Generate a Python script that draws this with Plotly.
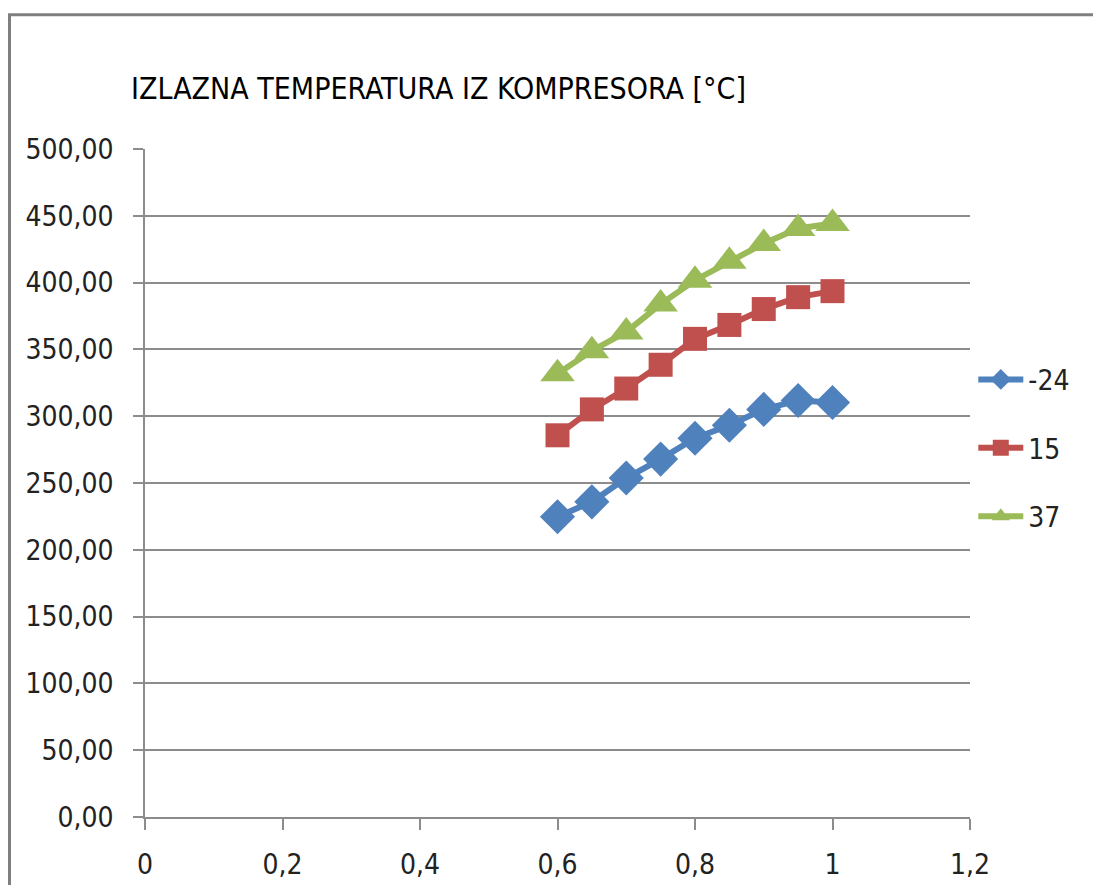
import plotly.graph_objects as go

# mass flow ratio on x, outlet temperature on y
x_vals = [0.6, 0.65, 0.7, 0.75, 0.8, 0.85, 0.9, 0.95, 1.0]
t_m24 = [224.7, 235.9, 253.7, 267.9, 283.5, 293.2, 305.1, 311.8, 310.3]
t_15 = [285.7, 305.1, 320.7, 338.5, 357.9, 368.3, 380.2, 389.1, 393.6]
t_37 = [331.8, 349.0, 363.1, 383.9, 401.8, 415.9, 429.3, 440.5, 444.2]
series_names = ["-24", "15", "37"]

FONT = "Liberation Sans Narrow, DejaVu Sans Condensed, Arial Narrow, sans-serif"
grid_col = "#8c8c8c"

fig = go.Figure()
styles = [
    (t_m24, "#4F81BD", "diamond", 27),
    (t_15, "#C0504D", "square", 24),
    (t_37, "#9BBB59", "triangle-up", 30),
]
for name, (vals, col, sym, sz) in zip(series_names, styles):
    fig.add_trace(go.Scatter(
        x=x_vals, y=vals, name=name, legendgroup=name,
        mode="lines+markers",
        line=dict(color=col, width=6),
        marker=dict(symbol=sym, size=sz, color=col),
    ))

fig.update_layout(
    width=1101, height=885,
    margin=dict(l=137, r=139, t=141, b=72),
    plot_bgcolor="white", paper_bgcolor="white",
    separators=", ",
    font=dict(family=FONT, size=28, color="#222222"),
    title=dict(text="IZLAZNA TEMPERATURA IZ KOMPRESORA [°C]",
               x=123 / 1101, xanchor="left", xref="container",
               y=1 - 80 / 885, yanchor="middle", yref="container",
               font=dict(family=FONT, size=30, color="#000000")),
    legend=dict(x=1.004, y=0.552, xanchor="left", yanchor="middle",
                font=dict(size=28), tracegroupgap=29, itemwidth=45,
                bgcolor="rgba(0,0,0,0)"),
    showlegend=True,
)
fig.update_xaxes(
    range=[0, 1.2], dtick=0.2, tick0=0,
    showgrid=False, zeroline=False,
    showline=True, linecolor=grid_col, linewidth=2,
    ticks="outside", ticklen=11, tickcolor=grid_col, tickwidth=1.5,
    ticklabelstandoff=10,
)
fig.update_yaxes(
    range=[0, 500], dtick=50, tickformat=".2f",
    showgrid=True, gridcolor=grid_col, gridwidth=1.5,
    zeroline=False,
    showline=True, linecolor=grid_col, linewidth=1.5,
    ticks="outside", ticklen=10, tickcolor=grid_col, tickwidth=1.5,
    ticklabelstandoff=14,
)

# chart border (Excel chart area frame, runs past the image edge)
fig.add_shape(type="rect", xref="paper", yref="paper",
              x0=(1.5 - 137) / 825, x1=1.3, y0=-0.3, y1=(813 - 6) / 672,
              line=dict(color="#7f7f7f", width=3), layer="below")

fig.write_html("out.html")
